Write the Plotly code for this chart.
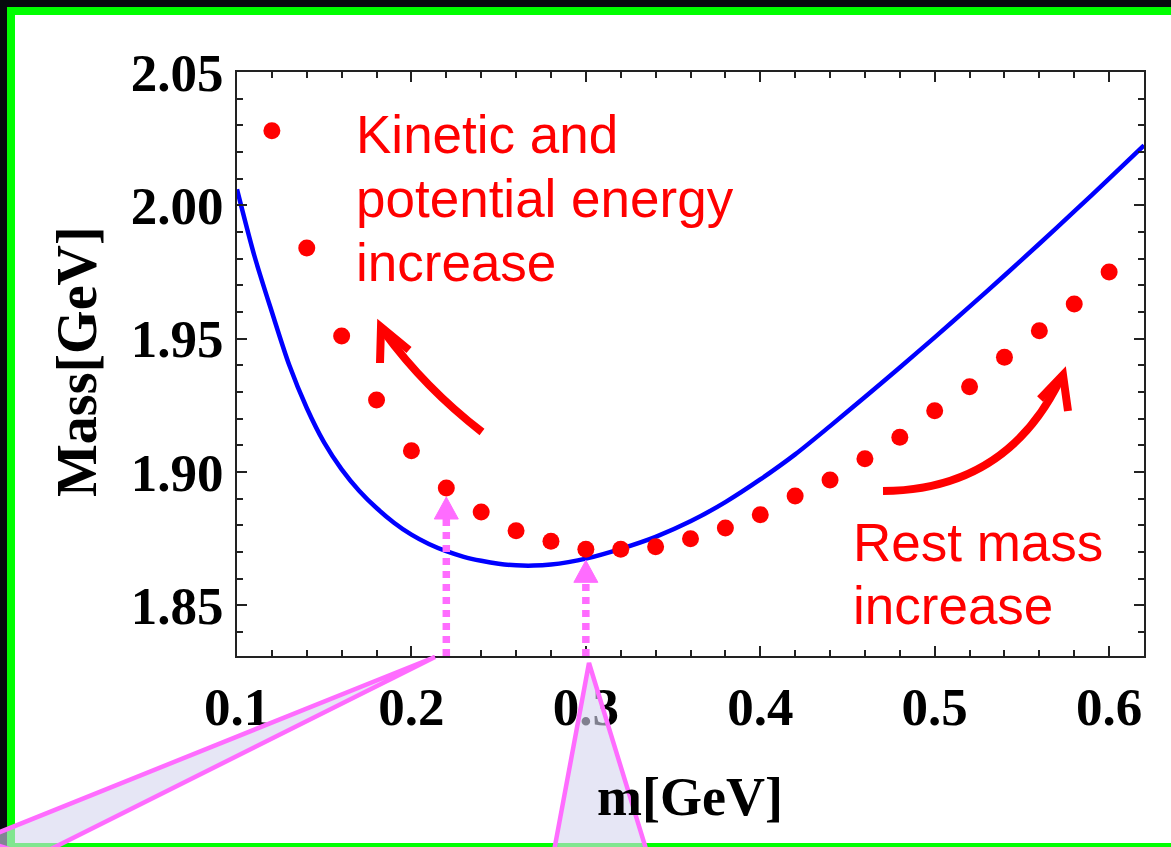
import plotly.graph_objects as go

# ---------------- data ----------------
m_points = [0.12, 0.14, 0.16, 0.18, 0.20, 0.22, 0.24, 0.26, 0.28, 0.30, 0.32, 0.34, 0.36,
            0.38, 0.40, 0.42, 0.44, 0.46, 0.48, 0.50, 0.52, 0.54, 0.56, 0.58, 0.60]
mass_points = [2.028, 1.984, 1.951, 1.927, 1.908, 1.894, 1.885, 1.878, 1.874, 1.871, 1.871, 1.872, 1.875,
               1.879, 1.884, 1.891, 1.897, 1.905, 1.913, 1.923, 1.932, 1.943, 1.953, 1.963, 1.975]

curve_m = [0.10, 0.11, 0.12, 0.13, 0.14, 0.15, 0.16, 0.17, 0.18, 0.19, 0.20, 0.21, 0.22, 0.23,
           0.24, 0.25, 0.26, 0.27, 0.28, 0.29, 0.30, 0.32, 0.34, 0.36, 0.38, 0.40, 0.42, 0.44,
           0.46, 0.48, 0.50, 0.52, 0.54, 0.56, 0.58, 0.60, 0.62]
curve_mass = [2.006, 1.981, 1.960, 1.940, 1.924, 1.911, 1.901, 1.893, 1.8865, 1.881, 1.8765, 1.873,
              1.8703, 1.8682, 1.8667, 1.8656, 1.8650, 1.8649, 1.8653, 1.8662, 1.8675, 1.8712,
              1.8757, 1.8815, 1.8887, 1.8972, 1.9066, 1.9172, 1.9281, 1.9392, 1.9505, 1.9620,
              1.9737, 1.9856, 1.9977, 2.0100, 2.0225]

x_range = [0.1, 0.62]
y_range = [1.831, 2.05]
x_ticks = [0.1, 0.2, 0.3, 0.4, 0.5, 0.6]
y_ticks = [1.85, 1.90, 1.95, 2.00, 2.05]

x_title = "m[GeV]"
y_title = "Mass[GeV]"
note_left = ["Kinetic and", "potential energy", "increase"]
note_right = ["Rest mass", "increase"]
highlight_idx = [5, 9]  # points at m = 0.22 and m = 0.30

# ---------------- layout geometry ----------------
W, H = 1171, 847
L, R, T, B = 237, 1144, 72, 656


def fx(px):
    return (px - L) / (R - L)


def fy(py):
    return (B - py) / (B - T)


def P(px, py):
    return f"{fx(px):.5f},{fy(py):.5f}"


RED = "#FF0000"
MAG = "#FF6CFF"
SERIF = "Liberation Serif"
SANS = "Liberation Sans"
BG = "#070a0e"

fig = go.Figure()
fig.add_trace(go.Scatter(x=curve_m, y=curve_mass, mode="lines",
                         line=dict(color="#0000FF", width=4.5, shape="spline", smoothing=0.8),
                         hoverinfo="skip"))
fig.add_trace(go.Scatter(x=m_points, y=mass_points, mode="markers",
                         marker=dict(color=RED, size=17, line=dict(width=0)),
                         hoverinfo="skip"))

shapes = []
# white card with green frame
shapes.append(dict(type="rect", xref="paper", yref="paper",
                   x0=fx(11), x1=fx(1195), y0=fy(11), y1=fy(847),
                   fillcolor="white", line=dict(color="#00FF00", width=8), layer="below"))

# magenta dashed pointer arrows
per_px = (y_range[1] - y_range[0]) / (B - T)
for idx, off in zip(highlight_idx, [9, 11]):
    mx = m_points[idx]
    tip = mass_points[idx] - off * per_px
    base = tip - 22 * per_px
    shapes.append(dict(type="line", xref="x", yref="y", x0=mx, x1=mx, y0=y_range[0], y1=base,
                       line=dict(color=MAG, width=7.5, dash="7px,6px"), layer="above"))
    shapes.append(dict(type="path", xref="x", yref="y", xsizemode="pixel", ysizemode="pixel",
                       xanchor=mx, yanchor=tip, path="M 0 0 L -12 -22 L 12 -22 Z",
                       fillcolor=MAG, line=dict(color=MAG, width=1), layer="above"))

# callout tails
tail_fill = "rgba(213,213,238,0.6)"
shapes.append(dict(type="path", xref="paper", yref="paper",
                   path=f"M {P(435, 657)} L {P(-20, 840)} L {P(35, 857)} Z",
                   fillcolor=tail_fill, line=dict(color=MAG, width=4.5), layer="above"))
shapes.append(dict(type="path", xref="paper", yref="paper",
                   path=f"M {P(589, 663)} L {P(552, 862)} L {P(650, 862)} Z",
                   fillcolor=tail_fill, line=dict(color=MAG, width=4.5), layer="above"))

# red curved arrows
shapes.append(dict(type="path", xref="paper", yref="paper",
                   path=f"M {P(482, 432)} Q {P(425, 388)} {P(384, 332)}",
                   line=dict(color=RED, width=8), layer="above"))
shapes.append(dict(type="path", xref="paper", yref="paper",
                   path=f"M {P(380, 363)} L {P(381, 327)} L {P(409, 350)}",
                   line=dict(color=RED, width=8), layer="above"))
shapes.append(dict(type="path", xref="paper", yref="paper",
                   path=f"M {P(883, 491)} Q {P(1006, 490)} {P(1060, 380)}",
                   line=dict(color=RED, width=8), layer="above"))
shapes.append(dict(type="path", xref="paper", yref="paper",
                   path=f"M {P(1040, 399)} L {P(1063, 375)} L {P(1068, 411)}",
                   line=dict(color=RED, width=8), layer="above"))

annotations = []
for i, line in enumerate(note_left):
    annotations.append(dict(xref="paper", yref="paper", x=fx(354), y=fy(134 + 64 * i),
                            xanchor="left", yanchor="middle", text=line, showarrow=False,
                            font=dict(family=SANS, size=53, color=RED)))
for i, line in enumerate(note_right):
    annotations.append(dict(xref="paper", yref="paper", x=fx(851), y=fy(542 + 63 * i),
                            xanchor="left", yanchor="middle", text=line, showarrow=False,
                            font=dict(family=SANS, size=53, color=RED)))
annotations.append(dict(xref="paper", yref="paper", x=fx(690), y=fy(797), text=x_title,
                        showarrow=False, xanchor="center", yanchor="middle",
                        font=dict(family=SERIF, size=54, color="black", weight="bold")))
annotations.append(dict(xref="paper", yref="paper", x=fx(77), y=fy(362), text=y_title,
                        showarrow=False, xanchor="center", yanchor="middle", textangle=-90,
                        font=dict(family=SERIF, size=56, color="black", weight="bold")))

axis_common = dict(showgrid=False, zeroline=False, showline=True, linecolor="#222222",
                   linewidth=2, mirror="ticks", ticks="inside", ticklen=10, tickwidth=2,
                   tickcolor="#222222",
                   tickfont=dict(family=SERIF, size=53, color="black", weight="bold"))

fig.update_xaxes(range=x_range, tickvals=x_ticks, ticktext=[f"{v:.1f}" for v in x_ticks],
                 ticklabelstandoff=3,
                 minor=dict(dtick=0.02, tick0=0.1, ticks="inside", ticklen=6, tickwidth=2,
                            tickcolor="#222222"),
                 **axis_common)
fig.update_yaxes(range=y_range, tickvals=y_ticks, ticktext=[f"{v:.2f}" for v in y_ticks],
                 ticklabelstandoff=1,
                 minor=dict(dtick=0.01, tick0=1.85, ticks="inside", ticklen=6, tickwidth=2,
                            tickcolor="#222222"),
                 **axis_common)

fig.update_layout(width=W, height=H, margin=dict(l=L, r=W - R, t=T, b=H - B, autoexpand=False),
                  paper_bgcolor=BG, plot_bgcolor="white", showlegend=False,
                  shapes=shapes, annotations=annotations)

fig.write_html("out.html", config={"displayModeBar": False},
               post_script=("document.body.style.margin='0';"
                            "document.body.style.overflow='hidden';"
                            f"document.body.style.background='{BG}';"))
